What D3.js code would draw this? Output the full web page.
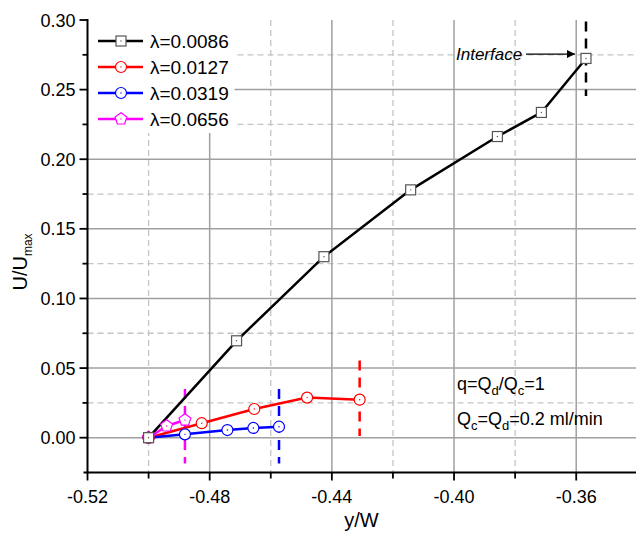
<!DOCTYPE html>
<html>
<head>
<meta charset="utf-8">
<script src="https://cdn.jsdelivr.net/npm/d3@7/dist/d3.min.js"></script>
<style>
  html, body { margin: 0; padding: 0; background: #fff; }
  svg { display: block; font-family: "Liberation Sans", Arial, sans-serif; }
</style>
</head>
<body>
<svg id="chart" width="636" height="534"></svg>
<script>
// ---- data ----
const seriesNames = ["λ=0.0086", "λ=0.0127", "λ=0.0319", "λ=0.0656"];
const seriesColors = ["#000000", "#ff0000", "#0000ff", "#ff00ff"];
const seriesShapes = ["square", "circle", "circle", "pentagon"];

const x0086 = [-0.500, -0.4712, -0.4426, -0.4142, -0.3858, -0.3714, -0.3568];
const y0086 = [0.000, 0.0696, 0.1300, 0.1780, 0.2163, 0.2336, 0.2724];
const x0127 = [-0.500, -0.4826, -0.4654, -0.4481, -0.4309];
const y0127 = [0.000, 0.0104, 0.0206, 0.0288, 0.0273];
const x0319 = [-0.500, -0.4881, -0.4742, -0.4657, -0.4573];
const y0319 = [0.000, 0.0024, 0.0055, 0.0070, 0.0079];
const x0656 = [-0.500, -0.4941, -0.4881];
const y0656 = [0.000, 0.0084, 0.0127];

// interface markers (vertical dashed lines): x, y-from, y-to
const ifaceX  = [-0.3568, -0.4309, -0.4573, -0.4881];
const ifaceY0 = [0.2990, 0.0555, 0.0350, 0.0350];
const ifaceY1 = [0.2455, 0.0012, -0.0185, -0.0185];

const xMajorTicks = [-0.52, -0.48, -0.44, -0.40, -0.36];
const xMinorTicks = [-0.50, -0.46, -0.42, -0.38];
const yMajorTicks = [0.00, 0.05, 0.10, 0.15, 0.20, 0.25, 0.30];
const yMinorTicks = [0.025, 0.075, 0.125, 0.175, 0.225, 0.275];

const xDomain = [-0.52, -0.34];
const yDomain = [-0.025, 0.30];

// ---- layout ----
const svg = d3.select("#chart");
const L = 87.5, R = 637.3, T = 20, B = 472.5;
const x = d3.scaleLinear().domain(xDomain).range([L, R]);
const y = d3.scaleLinear().domain(yDomain).range([B, T]);

const seriesX = [x0086, x0127, x0319, x0656];
const seriesY = [y0086, y0127, y0319, y0656];
const series = seriesNames.map((name, i) => ({
  name, color: seriesColors[i], shape: seriesShapes[i],
  pts: seriesX[i].map((v, j) => ({ x: v, y: seriesY[i][j] }))
}));

// ---- grid ----
const grid = svg.append("g");
grid.selectAll(".hmin").data(yMinorTicks).join("line")
  .attr("x1", L).attr("x2", R).attr("y1", d => y(d)).attr("y2", d => y(d))
  .attr("stroke", "#c4c4c4").attr("stroke-width", 1.3).attr("stroke-dasharray", "6,4");
grid.selectAll(".vmin").data(xMinorTicks).join("line")
  .attr("y1", T).attr("y2", B).attr("x1", d => x(d)).attr("x2", d => x(d))
  .attr("stroke", "#c4c4c4").attr("stroke-width", 1.3).attr("stroke-dasharray", "6,4");
grid.selectAll(".hmaj").data(yMajorTicks.filter(d => d < 0.3)).join("line")
  .attr("x1", L).attr("x2", R).attr("y1", d => y(d)).attr("y2", d => y(d))
  .attr("stroke", "#a0a0a0").attr("stroke-width", 1.5);
grid.selectAll(".vmaj").data(xMajorTicks.filter(d => d > -0.52)).join("line")
  .attr("y1", T).attr("y2", B).attr("x1", d => x(d)).attr("x2", d => x(d))
  .attr("stroke", "#a0a0a0").attr("stroke-width", 1.5);

// ---- legend background ----
svg.append("rect").attr("x", L + 1).attr("y", T).attr("width", 146).attr("height", 113).attr("fill", "#fff");

// ---- interface dashed lines ----
svg.append("g").selectAll("line").data(ifaceX).join("line")
  .attr("x1", d => x(d)).attr("x2", d => x(d))
  .attr("y1", (d, i) => y(ifaceY0[i])).attr("y2", (d, i) => y(ifaceY1[i]))
  .attr("stroke", (d, i) => seriesColors[i]).attr("stroke-width", 2.5)
  .attr("stroke-dasharray", "10,7");

// ---- markers ----
function drawMarker(g, shape, color, cx, cy) {
  const fillC = "#fff";
  if (shape === "square") {
    g.append("rect").attr("x", cx - 5).attr("y", cy - 5).attr("width", 10).attr("height", 10)
      .attr("fill", fillC).attr("stroke", "#555").attr("stroke-width", 1.2);
    g.append("circle").attr("cx", cx).attr("cy", cy).attr("r", 0.7).attr("fill", "#555");
  } else if (shape === "circle") {
    g.append("circle").attr("cx", cx).attr("cy", cy).attr("r", 5.5)
      .attr("fill", fillC).attr("stroke", color).attr("stroke-width", 1.2);
    g.append("circle").attr("cx", cx).attr("cy", cy).attr("r", 0.7).attr("fill", color);
  } else if (shape === "pentagon") {
    const r = 6.2;
    const pts = d3.range(5).map(k => {
      const a = -Math.PI / 2 + k * 2 * Math.PI / 5;
      return [cx + r * Math.cos(a), cy + r * Math.sin(a)];
    });
    g.append("polygon").attr("points", pts.map(p => p.join(",")).join(" "))
      .attr("fill", fillC).attr("stroke", color).attr("stroke-width", 1.2);
    g.append("circle").attr("cx", cx).attr("cy", cy).attr("r", 0.7).attr("fill", color);
  }
}

// ---- series ----
const line = d3.line().x(d => x(d.x)).y(d => y(d.y));
series.forEach(s => {
  const g = svg.append("g");
  g.append("path").datum(s.pts).attr("d", line)
    .attr("fill", "none").attr("stroke", s.color).attr("stroke-width", 2.5)
    .attr("stroke-linejoin", "round");
});
series.slice().reverse().forEach(s => {
  const g = svg.append("g");
  s.pts.forEach(p => drawMarker(g, s.shape, s.color, x(p.x), y(p.y)));
});

// ---- axes ----
const ax = svg.append("g").attr("fill", "none");
ax.append("line").attr("x1", L - 4).attr("x2", R).attr("y1", B).attr("y2", B)
  .attr("stroke", "#000").attr("stroke-width", 2);
ax.append("line").attr("x1", L).attr("x2", L).attr("y1", T - 1).attr("y2", B + 1)
  .attr("stroke", "#000").attr("stroke-width", 2);

ax.selectAll(".xt").data(xMajorTicks).join("line")
  .attr("x1", d => x(d)).attr("x2", d => x(d)).attr("y1", B).attr("y2", B + 8)
  .attr("stroke", "#000").attr("stroke-width", 1.8);
ax.selectAll(".xm").data(xMinorTicks).join("line")
  .attr("x1", d => x(d)).attr("x2", d => x(d)).attr("y1", B).attr("y2", B + 6)
  .attr("stroke", "#000").attr("stroke-width", 1.8);
ax.selectAll(".yt").data(yMajorTicks).join("line")
  .attr("y1", d => y(d)).attr("y2", d => y(d)).attr("x1", L - 8).attr("x2", L)
  .attr("stroke", "#000").attr("stroke-width", 1.8);
ax.selectAll(".ym").data(yMinorTicks).join("line")
  .attr("y1", d => y(d)).attr("y2", d => y(d)).attr("x1", L - 5).attr("x2", L)
  .attr("stroke", "#000").attr("stroke-width", 1.8);

const fmt = d3.format(".2f");
svg.append("g").selectAll("text").data(xMajorTicks).join("text")
  .attr("x", d => x(d)).attr("y", B + 30).attr("text-anchor", "middle")
  .attr("font-size", 18).attr("fill", "#000").text(d => fmt(d).replace("\u2212", "-"));
svg.append("g").selectAll("text").data(yMajorTicks).join("text")
  .attr("x", L - 12).attr("y", d => y(d) + 6.5).attr("text-anchor", "end")
  .attr("font-size", 18).attr("fill", "#000").text(d => fmt(d));

// axis titles
svg.append("text").attr("x", (L + R) / 2 - 1).attr("y", 527).attr("text-anchor", "middle")
  .attr("font-size", 20).attr("fill", "#000").text("y/W");
const yt = svg.append("text").attr("transform", "translate(27,262) rotate(-90)")
  .attr("text-anchor", "middle").attr("font-size", 20).attr("fill", "#000");
yt.append("tspan").text("U/U");
yt.append("tspan").attr("font-size", 12).attr("dy", 5).text("max");

// ---- legend ----
const leg = svg.append("g");
series.forEach((s, i) => {
  const ly = 41 + i * 26;
  leg.append("line").attr("x1", 98).attr("x2", 143).attr("y1", ly).attr("y2", ly)
    .attr("stroke", s.color).attr("stroke-width", 2.5);
  drawMarker(leg, s.shape, s.color, 121, ly);
  leg.append("text").attr("x", 150).attr("y", ly + 7).attr("font-size", 19)
    .attr("fill", "#000").text(s.name);
});

// ---- annotations ----
const last = series[0].pts[series[0].pts.length - 1];
const ay = y(0.2755);
svg.append("defs").append("marker").attr("id", "arr").attr("viewBox", "0 0 10 10")
  .attr("refX", 10).attr("refY", 5).attr("markerWidth", 10).attr("markerHeight", 8)
  .attr("markerUnits", "userSpaceOnUse").attr("orient", "auto")
  .append("path").attr("d", "M0,0 L10,5 L0,10 Z").attr("fill", "#000");
svg.append("line").attr("x1", 526).attr("x2", x(last.x) - 11).attr("y1", ay).attr("y2", ay)
  .attr("stroke", "#000").attr("stroke-width", 1.2).attr("marker-end", "url(#arr)");
svg.append("text").attr("x", 456).attr("y", ay + 6).attr("font-size", 17)
  .attr("font-style", "italic").attr("fill", "#000").text("Interface");

const t1 = svg.append("text").attr("x", 457).attr("y", 390).attr("font-size", 18).attr("fill", "#000");
t1.append("tspan").text("q=Q");
t1.append("tspan").attr("font-size", 13).attr("dy", 5).text("d");
t1.append("tspan").attr("dy", -5).text("/Q");
t1.append("tspan").attr("font-size", 13).attr("dy", 5).text("c");
t1.append("tspan").attr("dy", -5).text("=1");

const t2 = svg.append("text").attr("x", 457).attr("y", 425).attr("font-size", 18).attr("fill", "#000");
t2.append("tspan").text("Q");
t2.append("tspan").attr("font-size", 13).attr("dy", 5).text("c");
t2.append("tspan").attr("dy", -5).text("=Q");
t2.append("tspan").attr("font-size", 13).attr("dy", 5).text("d");
t2.append("tspan").attr("dy", -5).text("=0.2 ml/min");
</script>
</body>
</html>
